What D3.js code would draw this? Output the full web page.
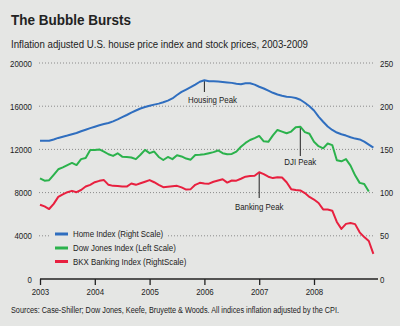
<!DOCTYPE html>
<html>
<head>
<meta charset="utf-8">
<script src="https://cdn.jsdelivr.net/npm/d3@7"></script>
<style>
  html, body { margin: 0; padding: 0; background: #e5e6e4; }
  svg { display: block; }
  text { font-family: "Liberation Sans", Arial, sans-serif; fill: #222; }
</style>
</head>
<body>
<svg id="chart" width="400" height="326"></svg>
<script>
// ---------- data ----------
const startYear = 2003;            // first monthly point = Jan 2003
const yearTicks = [2003, 2004, 2005, 2006, 2007, 2008];
const leftTicks = [0, 4000, 8000, 12000, 16000, 20000];
const rightTicks = [0, 50, 100, 150, 200, 250];

// Home Index (right scale), monthly
const homeIndex = [
  160, 160, 160, 161.5, 163.3, 164.7, 166, 167.5, 169, 171, 172.8, 174.6,
  176.3, 178, 179.3, 180.6, 182.5, 184.8, 187.3, 189.8, 192.5, 195, 197.3, 199,
  200.5, 201.8, 203, 204.6, 206.4, 209, 213, 216.5, 219.3, 222, 225, 228.3,
  230, 229, 229, 228.5, 228, 227.5, 227, 226, 225.5, 226.5, 226.5, 225,
  222.5, 220.5, 218, 215.5, 213.5, 212, 211, 210.5, 209.5, 207.5, 204, 200,
  195, 188, 182, 176.5, 172.5, 169.5, 167.5, 166, 164, 162.5, 161.5, 159,
  155.5, 152
];
// Dow Jones Index (left scale), monthly
const dowJones = [
  9320, 9100, 9150, 9650, 10160, 10330, 10550, 10750, 10550, 11100, 11200, 11950,
  11950, 12000, 11800, 11550, 11400, 11640, 11330, 11300, 11250, 11100, 11500, 11950,
  11650, 11800, 11300, 11020, 11300, 11100, 11450, 11350, 11150, 11050, 11480, 11500,
  11550, 11650, 11750, 11900, 11650, 11550, 11580, 11800, 12250, 12600, 12870, 13050,
  13250, 12750, 12700, 13300, 13800, 13650, 13500, 13650, 14050, 14100, 13600, 13450,
  12700, 12300, 12100, 12550, 12400, 11000, 10900, 11100, 10500, 9600, 8900, 8800,
  8100
];
// BKX Banking Index (right scale), monthly
const bkxIndex = [
  86, 84, 81, 87, 95, 98, 100.5, 102, 100.5, 103, 107, 109,
  112, 113.6, 114.5, 109, 107.8, 107.7, 107, 107, 110.5, 109, 110.8, 112.6,
  114.5, 112, 109, 106.3, 106.8, 107.3, 107.8, 106, 103.5, 104, 109, 111.3,
  110.5, 110.3, 112.6, 114, 115.5, 111.6, 114, 113.8, 116, 118.4, 119.2, 119.5,
  123.5, 121.3, 118.4, 116.8, 117.8, 117.5, 112, 104, 103, 102.5, 99.5, 95,
  92, 88, 80.5, 80.5, 79, 66, 58, 63.8, 64.7, 63.5, 54, 48.5,
  44, 29
];
const seriesNames = ["Home Index (Right Scale)", "Dow Jones Index (Left Scale)", "BKX Banking Index (RightScale)"];
const seriesColors = ["#2f6ebf", "#2bb24c", "#e8203f"];
const peakLabels = ["Housing Peak", "DJI Peak", "Banking Peak"];

// ---------- layout ----------
const svg = d3.select("#chart");
const bg = "#e5e6e4";
const x = d3.scaleLinear().domain([2003, 2008]).range([40, 314]);
const yL = d3.scaleLinear().domain([0, 20000]).range([279, 63]);
const yR = d3.scaleLinear().domain([0, 250]).range([279, 63]);
const t = i => startYear + i / 12;
const COND = 0.83; // horizontal condensation to mimic the narrow face

svg.append("rect").attr("width", 400).attr("height", 326).attr("fill", bg);

// titles
svg.append("text").attr("x", 11).attr("y", 25)
  .style("font-weight", "bold").style("font-size", "15.5px").attr("fill", "#111")
  .attr("textLength", 120).attr("lengthAdjust", "spacingAndGlyphs")
  .text("The Bubble Bursts");
svg.append("text").attr("x", 11).attr("y", 48)
  .style("font-size", "11px").attr("fill", "#333")
  .attr("textLength", 297).attr("lengthAdjust", "spacingAndGlyphs")
  .text("Inflation adjusted U.S. house price index and stock prices, 2003-2009");

// gridlines
svg.append("g").selectAll("line").data(leftTicks.filter(d => d > 0)).join("line")
  .attr("x1", 39).attr("x2", 375)
  .attr("y1", d => yL(d)).attr("y2", d => yL(d))
  .attr("stroke", "#8a8a8a").attr("stroke-width", 1).attr("stroke-dasharray", "1,2");

// left axis labels
const gl = svg.append("g").attr("transform", "translate(32,0)")
  .call(d3.axisLeft(yL).tickValues(leftTicks).tickSize(0).tickPadding(0).tickFormat(d3.format("d")));
gl.select(".domain").remove();
gl.selectAll("text").classed("cond", true).style("font-size", "9.5px").attr("fill", "#222");

// right axis labels
const gr = svg.append("g").attr("transform", "translate(380,0)")
  .call(d3.axisRight(yR).tickValues(rightTicks).tickSize(0).tickPadding(0).tickFormat(d3.format("d")));
gr.select(".domain").remove();
gr.selectAll("text").classed("cond", true).style("font-size", "9.5px").attr("fill", "#222");

// bottom axis
const gb = svg.append("g").attr("transform", "translate(0,279)")
  .call(d3.axisBottom(x).tickValues(yearTicks).tickSize(6).tickPadding(3).tickFormat(d3.format("d")));
gb.select(".domain").remove();
gb.selectAll("line").attr("stroke", "#222").attr("stroke-width", 1.3);
gb.selectAll("text").classed("cond", true).style("font-size", "9.5px").attr("fill", "#222");
svg.append("line").attr("x1", x(2003)).attr("x2", 378).attr("y1", 279).attr("y2", 279)
  .attr("stroke", "#222").attr("stroke-width", 1.5);

// annotation peaks
const homePeak = d3.maxIndex(homeIndex);
const dowPeak = d3.maxIndex(dowJones);
const bkxPeak = d3.maxIndex(bkxIndex);
const ann = [
  {i: homePeak, y: yR(homeIndex[homePeak]), y2: 92, ly: 99.5, lx: 188, anchor: "start", label: peakLabels[0]},
  {i: dowPeak, y: yL(dowJones[dowPeak]), y2: 156, ly: 162, lx: null, anchor: "middle", label: peakLabels[1]},
  {i: bkxPeak, y: yR(bkxIndex[bkxPeak]), y2: 198, ly: 207, lx: null, anchor: "middle", label: peakLabels[2]}
];
const ga = svg.append("g");
ann.forEach(a => {
  const xx = x(t(a.i));
  ga.append("line").attr("x1", xx).attr("x2", xx).attr("y1", a.y).attr("y2", a.y2)
    .attr("stroke", "#222").attr("stroke-width", 1);
  ga.append("text").classed("cond", true).attr("x", a.lx == null ? xx : a.lx).attr("y", a.ly)
    .attr("text-anchor", a.anchor).attr("dominant-baseline", "central")
    .style("font-size", "9.5px").text(a.label);
});

// lines
const lineR = d3.line().x((d, i) => x(t(i))).y(d => yR(d));
const lineL = d3.line().x((d, i) => x(t(i))).y(d => yL(d));
const gLines = svg.append("g").attr("fill", "none").attr("stroke-width", 2).attr("stroke-linejoin", "round");
gLines.append("path").attr("d", lineR(bkxIndex)).attr("stroke", seriesColors[2]);
gLines.append("path").attr("d", lineL(dowJones)).attr("stroke", seriesColors[1]);
gLines.append("path").attr("d", lineR(homeIndex)).attr("stroke", seriesColors[0]);

// legend
const lg = svg.append("g");
lg.append("rect").attr("x", 50).attr("y", 226).attr("width", 118).attr("height", 42).attr("fill", bg);
const legY = [234, 248, 261.5];
seriesNames.forEach((n, k) => {
  lg.append("line").attr("x1", 55).attr("x2", 68).attr("y1", legY[k]).attr("y2", legY[k])
    .attr("stroke", seriesColors[k]).attr("stroke-width", 3);
  lg.append("text").classed("cond", true).attr("x", 73).attr("y", legY[k]).attr("dominant-baseline", "central")
    .style("font-size", "9.5px").text(n);
});

// source
svg.append("text").classed("cond", true).attr("x", 11).attr("y", 313)
  .style("font-size", "8.8px").attr("fill", "#333")
  .text("Sources: Case-Shiller; Dow Jones, Keefe, Bruyette & Woods. All indices inflation adjusted by the CPI.");

// condense small texts horizontally with a transform (keeps them as real text)
svg.selectAll("text.cond").each(function() {
  const el = d3.select(this);
  const x0 = +el.attr("x") || 0;
  el.attr("x", 0).attr("transform", `translate(${x0},0) scale(${COND},1)`);
});
</script>
</body>
</html>
